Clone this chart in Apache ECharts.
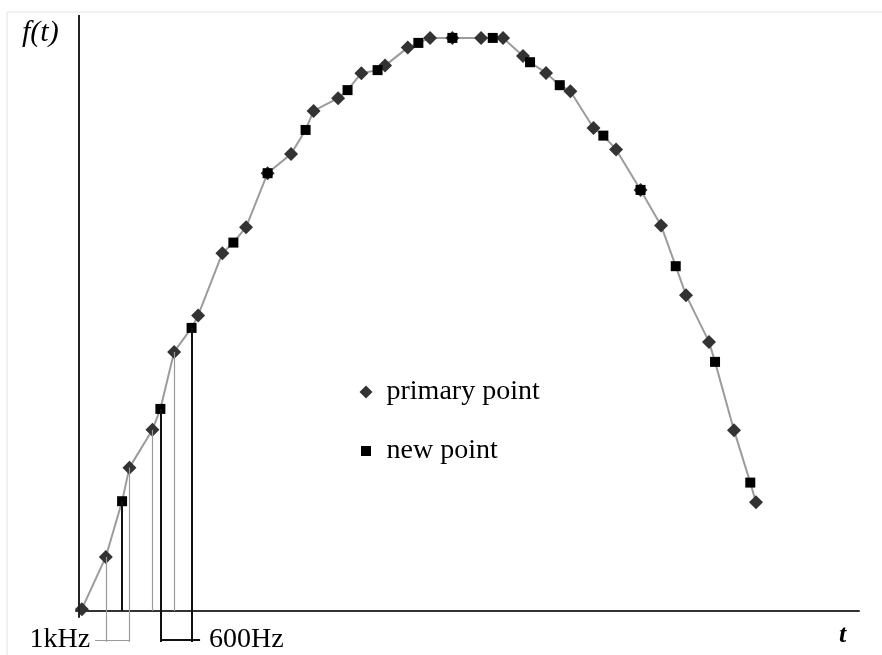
<!DOCTYPE html>
<html><head><meta charset="utf-8">
<script src="https://cdn.jsdelivr.net/npm/echarts@6/dist/echarts.min.js"></script>
<style>html,body{margin:0;padding:0;background:#fff}#c{width:882px;height:655px}</style>
</head><body><div id="c"></div>
<script>
// primary points (diamonds)
const primaryT = [0.35, 3.42, 6.45, 9.40, 12.18, 15.26, 18.37, 21.41, 24.17, 27.18, 30.06, 33.21, 36.19, 39.23, 42.14, 45.00, 47.86, 51.54, 54.36, 56.92, 59.87, 62.99, 65.96, 68.85, 71.99, 74.62, 77.82, 80.77, 83.97, 86.79];
const primaryF = [0.3, 9.42, 25.0, 31.6, 45.2, 51.57, 62.43, 66.96, 76.39, 79.76, 87.26, 89.49, 93.84, 95.17, 98.31, 100, 100, 100, 100, 96.86, 93.89, 90.70, 84.29, 80.54, 73.47, 67.28, 55.10, 46.95, 31.54, 18.94];
// new points (squares)
const newT = [5.51, 10.42, 14.42, 19.78, 24.17, 29.04, 34.42, 38.27, 43.50, 47.86, 53.04, 57.82, 61.63, 67.22, 71.99, 76.50, 81.54, 86.06];
const newF = [19.14, 35.25, 49.39, 64.28, 76.39, 83.94, 90.89, 94.38, 99.13, 100, 100, 95.76, 91.75, 82.95, 73.47, 60.16, 43.46, 22.39];
// sampling stems
const stemT = [3.42, 5.51, 6.45, 9.40, 10.42, 12.18, 14.42];
const stemF = [9.42, 19.14, 25.0, 31.6, 35.25, 45.2, 49.39];
const stemEnd = [-5.41, 0, -5.41, 0, -5.41, 0, -5.41];
const stemKind = ['gray', 'black', 'gray', 'gray', 'black', 'gray', 'black'];
// interval brackets
const bracketLabels = ['1kHz', '600Hz'];
const bracketFrom = [2.05, 10.42];
const bracketTo = [6.45, 15.51];
const bracketKind = ['gray', 'black'];
const bracketF = -5.06;

const legendNames = ['primary point', 'new point'];

const styles = {
  gray: {color: '#9a9a9a', width: 1.2, type: 'solid'},
  black: {color: '#111', width: 2, type: 'solid'}
};
const serif = "'Liberation Serif', 'DejaVu Serif', serif";

const allPts = primaryT.map((t, i) => [t, primaryF[i]])
  .concat(newT.map((t, i) => [t, newF[i]]))
  .sort((a, b) => a[0] - b[0]);

const ml = [];
stemT.forEach((t, i) => {
  ml.push([{coord: [t, stemF[i]], lineStyle: styles[stemKind[i]]}, {coord: [t, stemEnd[i]]}]);
});
bracketLabels.forEach((lab, i) => {
  ml.push([
    {coord: [bracketFrom[i], bracketF], lineStyle: styles[bracketKind[i]],
     label: {show: true, formatter: lab, position: i === 0 ? 'start' : 'end', distance: i === 0 ? 5 : 9,
             color: '#000', fontSize: 28, fontFamily: serif}},
    {coord: [bracketTo[i], bracketF]}
  ]);
});
// vertical f(t) axis line
ml.push([{coord: [0, -1.22], lineStyle: {color: '#222', width: 2, type: 'solid'}}, {coord: [0, 104]}]);

const chart = echarts.init(document.getElementById('c'));
chart.setOption({
  animation: false,
  backgroundColor: '#fff',
  grid: {left: 76, right: 23, top: 15, bottom: 0, containLabel: false},
  xAxis: {type: 'value', min: -0.4, max: 100,
    axisLine: {show: true, onZero: true, lineStyle: {color: '#333', width: 2}},
    axisTick: {show: false}, axisLabel: {show: false}, splitLine: {show: false}},
  yAxis: {type: 'value', min: -7.7, max: 104,
    axisLine: {show: false}, axisTick: {show: false}, axisLabel: {show: false}, splitLine: {show: false}},
  legend: {
    orient: 'vertical', left: 353, top: 373, itemGap: 31,
    itemWidth: 13, itemHeight: 13, selectedMode: false,
    textStyle: {fontSize: 28, fontFamily: serif, color: '#000', padding: [0, 0, 0, 9]},
    data: [
      {name: legendNames[0], icon: 'diamond', itemStyle: {color: '#333', opacity: 1}},
      {name: legendNames[1], icon: 'rect', itemStyle: {color: '#000', opacity: 1, borderColor: '#fff', borderWidth: 3}}
    ]
  },
  graphic: [
    {type: 'line', shape: {x1: 7, y1: 12, x2: 882, y2: 12}, style: {stroke: '#e2e2e2', lineWidth: 1}, silent: true},
    {type: 'line', shape: {x1: 7, y1: 12, x2: 7, y2: 655}, style: {stroke: '#e2e2e2', lineWidth: 1}, silent: true},
    {type: 'text', left: 22, top: 18, style: {text: 'f(t)', font: "italic 30px 'Liberation Serif'", fill: '#000'}},
    {type: 'text', left: 839, top: 622, style: {text: 't', font: "italic bold 26px 'Liberation Serif'", fill: '#000'}}
  ],
  series: [
    {name: 'curve', type: 'line', data: allPts, showSymbol: false, silent: true, z: 1,
     lineStyle: {color: '#9c9c9c', width: 2},
     markLine: {silent: true, symbol: ['none', 'none'], label: {show: false}, data: ml}},
    {name: legendNames[0], type: 'scatter', symbol: 'diamond', symbolSize: 14, z: 3,
     itemStyle: {color: '#333', opacity: 1}, data: primaryT.map((t, i) => [t, primaryF[i]])},
    {name: legendNames[1], type: 'scatter', symbol: 'rect', symbolSize: 10, z: 4,
     itemStyle: {color: '#000', opacity: 1}, data: newT.map((t, i) => [t, newF[i]])}
  ]
});
</script>
</body></html>
